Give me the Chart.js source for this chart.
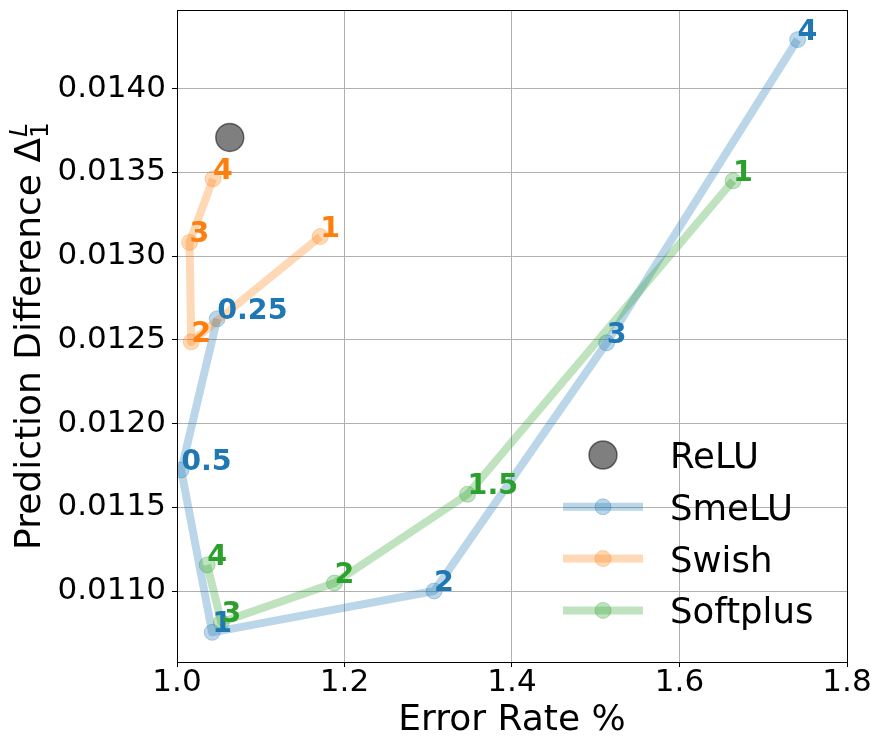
<!DOCTYPE html>
<html>
<head>
<meta charset="utf-8">
<script src="https://cdn.jsdelivr.net/npm/chart.js@4.4.1/dist/chart.umd.min.js"></script>
<style>
  html, body { margin: 0; padding: 0; background: #fff; }
  #wrap { width: 878px; height: 746px; }
</style>
</head>
<body>
<div id="wrap"><canvas id="chart" width="878" height="746"></canvas></div>
<script>
// values
const xTicks = [1.0, 1.2, 1.4, 1.6, 1.8];
const yTicks = [0.0110, 0.0115, 0.0120, 0.0125, 0.0130, 0.0135, 0.0140];

const reluErr = [1.063];
const reluDiff = [0.013709];

const smeluLabels = ['4', '3', '2', '1', '0.5', '0.25'];
const smeluErr = [1.741, 1.513, 1.307, 1.042, 1.005, 1.048];
const smeluDiff = [0.014293, 0.012482, 0.011000, 0.010753, 0.011723, 0.012626];

const swishLabels = ['1', '2', '3', '4'];
const swishErr = [1.171, 1.017, 1.015, 1.043];
const swishDiff = [0.013117, 0.012488, 0.013082, 0.013462];

const softplusLabels = ['1', '1.5', '2', '3', '4'];
const softplusErr = [1.664, 1.347, 1.188, 1.053, 1.036];
const softplusDiff = [0.013450, 0.011578, 0.011048, 0.010813, 0.011156];

const FONT = '"DejaVu Sans"';
Chart.defaults.font.family = FONT;
Chart.defaults.color = '#000';

function pts(xs, ys) {
    return xs.map((v, i) => ({ x: v, y: ys[i] }));
}

function series(name, xs, ys, labels, rgb, order) {
    const c = `rgba(${rgb},0.3)`;
    return {
        label: name,
        data: pts(xs, ys),
        showLine: true,
        borderColor: c,
        borderWidth: 8,
        borderJoinStyle: 'round',
        pointRadius: 8,
        pointHoverRadius: 8,
        pointBackgroundColor: c,
        pointBorderColor: c,
        pointBorderWidth: 1,
        pointLabels: labels,
        labelColor: `rgb(${rgb})`,
        order: order
    };
}

const datasets = [
    {
        label: 'ReLU',
        data: pts(reluErr, reluDiff),
        showLine: false,
        pointRadius: 14,
        pointHoverRadius: 14,
        pointBackgroundColor: 'rgba(0,0,0,0.5)',
        pointBorderColor: 'rgba(0,0,0,0.5)',
        pointBorderWidth: 1.5,
        order: 4
    },
    series('SmeLU', smeluErr, smeluDiff, smeluLabels, '31,119,180', 3),
    series('Swish', swishErr, swishDiff, swishLabels, '255,127,14', 2),
    series('Softplus', softplusErr, softplusDiff, softplusLabels, '44,160,44', 1)
];

// frame + the numbers written next to each point
const pointLabelPlugin = {
    id: 'pointLabels',
    afterDatasetsDraw(chart) {
        const { ctx, chartArea: a, scales: { x, y } } = chart;
        ctx.save();
        ctx.strokeStyle = '#000';
        ctx.lineWidth = 1;
        ctx.strokeRect(Math.round(a.left) + 0.5, Math.round(a.top) + 0.5,
            Math.round(a.right - a.left), Math.round(a.bottom - a.top));

        ctx.font = `bold 28.5px ${FONT}`;
        ctx.textAlign = 'left';
        ctx.textBaseline = 'alphabetic';
        chart.data.datasets.forEach(ds => {
            if (!ds.pointLabels) return;
            ctx.fillStyle = ds.labelColor;
            ds.data.forEach((p, i) => {
                ctx.fillText(ds.pointLabels[i], x.getPixelForValue(p.x), y.getPixelForValue(p.y));
            });
        });
        ctx.restore();
    }
};

// legend sits inside the plot, bottom right, no frame
const legendPlugin = {
    id: 'insideLegend',
    afterDraw(chart) {
        const { ctx, chartArea: a } = chart;
        const mx = a.right - 244;
        const y0 = a.bottom - 207;
        const gap = 51.8;
        ctx.save();
        chart.data.datasets.forEach((ds, i) => {
            const yy = y0 + i * gap;
            if (ds.showLine) {
                ctx.strokeStyle = ds.borderColor;
                ctx.lineWidth = ds.borderWidth;
                ctx.beginPath();
                ctx.moveTo(mx - 40, yy);
                ctx.lineTo(mx + 40, yy);
                ctx.stroke();
            }
            ctx.beginPath();
            ctx.arc(mx, yy, ds.pointRadius, 0, Math.PI * 2);
            ctx.fillStyle = ds.pointBackgroundColor;
            ctx.fill();
            ctx.lineWidth = ds.pointBorderWidth;
            ctx.strokeStyle = ds.pointBorderColor;
            ctx.stroke();

            ctx.fillStyle = '#000';
            ctx.font = `35.5px ${FONT}`;
            ctx.textAlign = 'left';
            ctx.textBaseline = 'alphabetic';
            ctx.fillText(ds.label, mx + 67, yy + 13);
        });
        ctx.restore();
    }
};

// y title with the stacked sub/superscript on Delta
const yTitlePlugin = {
    id: 'yTitle',
    afterDraw(chart) {
        const { ctx, chartArea: a } = chart;
        const main = 'Prediction Difference Δ';
        ctx.save();
        ctx.translate(39.5, (a.top + a.bottom) / 2);
        ctx.rotate(-Math.PI / 2);
        ctx.fillStyle = '#000';
        ctx.textAlign = 'left';
        ctx.textBaseline = 'alphabetic';
        ctx.font = `36px ${FONT}`;
        const wMain = ctx.measureText(main).width;
        ctx.font = `italic 25px ${FONT}`;
        const wSup = ctx.measureText('L').width;
        ctx.font = `25px ${FONT}`;
        const wSub = ctx.measureText('1').width;
        const x0 = -(wMain + Math.max(wSup, wSub)) / 2;
        ctx.font = `36px ${FONT}`;
        ctx.fillText(main, x0, 0);
        ctx.font = `italic 25px ${FONT}`;
        ctx.fillText('L', x0 + wMain + 1, -13);
        ctx.font = `25px ${FONT}`;
        ctx.fillText('1', x0 + wMain, 8);
        ctx.restore();
    }
};

new Chart(document.getElementById('chart').getContext('2d'), {
    type: 'scatter',
    data: { datasets: datasets },
    options: {
        responsive: false,
        animation: false,
        events: [],
        layout: { autoPadding: false, padding: { top: 10, right: 31, left: 0, bottom: 0 } },
        plugins: {
            legend: { display: false },
            tooltip: { enabled: false }
        },
        scales: {
            x: {
                type: 'linear',
                min: 1.0,
                max: 1.8,
                afterFit: s => {
                    s.height = 84;
                    s.paddingLeft = 0;
                    s.paddingRight = 0;
                },
                afterBuildTicks: s => { s.ticks = xTicks.map(v => ({ value: v })); },
                ticks: {
                    font: { size: 31, lineHeight: 1 },
                    color: '#000',
                    padding: 0,
                    maxRotation: 0,
                    autoSkip: false,
                    callback: v => v.toFixed(1)
                },
                grid: { color: '#b0b0b0', lineWidth: 1, tickLength: 5, tickColor: '#000' },
                border: { color: '#000' },
                title: {
                    display: true,
                    text: 'Error Rate %',
                    font: { size: 36, lineHeight: 1 },
                    color: '#000',
                    padding: { top: 0, bottom: 7 }
                }
            },
            y: {
                type: 'linear',
                min: 0.010576,
                max: 0.01447,
                afterFit: s => {
                    s.width = 177;
                    s.paddingTop = 0;
                    s.paddingBottom = 0;
                },
                afterBuildTicks: s => { s.ticks = yTicks.map(v => ({ value: v })); },
                ticks: {
                    font: { size: 31, lineHeight: 1 },
                    color: '#000',
                    padding: 6,
                    autoSkip: false,
                    callback: v => v.toFixed(4)
                },
                grid: { color: '#b0b0b0', lineWidth: 1, tickLength: 5, tickColor: '#000' },
                border: { color: '#000' }
            }
        }
    },
    plugins: [pointLabelPlugin, legendPlugin, yTitlePlugin]
});
</script>
</body>
</html>
